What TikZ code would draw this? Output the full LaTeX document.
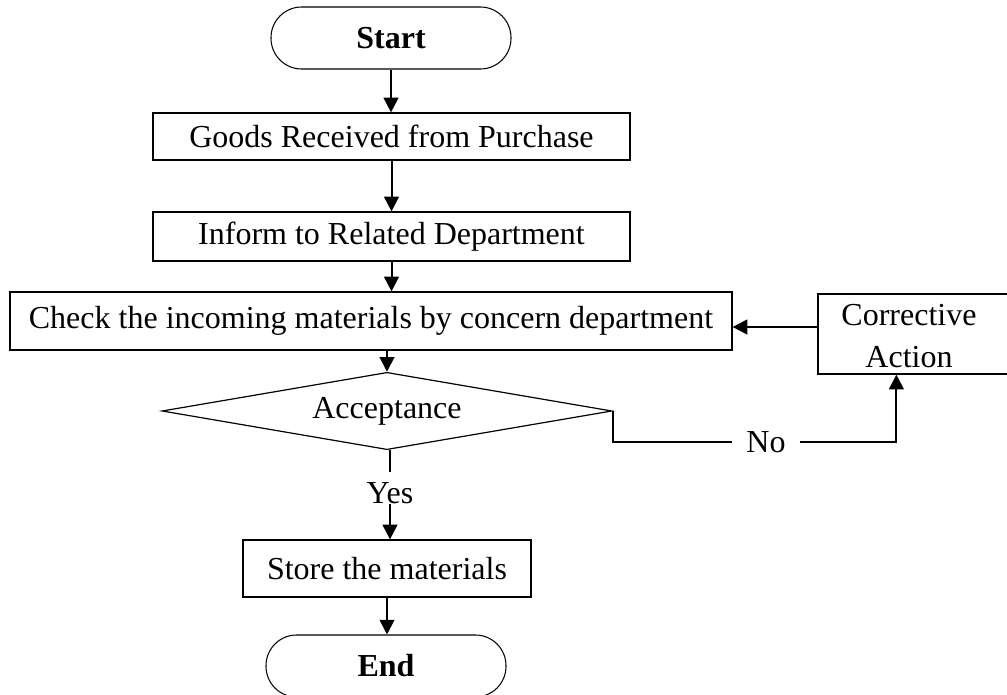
\documentclass[tikz,border=0pt]{standalone}
\usepackage{fontspec}
\setmainfont{Liberation Serif}
\usetikzlibrary{shapes.geometric,arrows.meta}
\begin{document}
\begin{tikzpicture}[x=0.75pt,y=-0.75pt,
  every node/.style={font=\fontsize{24}{31.5}\selectfont},
  box/.style={draw,line width=0.9pt,inner sep=0pt},
  term/.style={draw,line width=0.8pt,rounded corners=23pt,minimum width=180pt,minimum height=46.5pt,inner sep=0pt,font=\fontsize{24}{28}\selectfont\bfseries},
  dec/.style={draw,diamond,line width=0.9pt,aspect=5.8,minimum width=337.5pt,minimum height=58pt,inner sep=0pt},
  lbl/.style={inner sep=0pt},
  arr/.style={line width=1.5pt,-{Triangle[length=11pt,width=11pt]}},
  conn/.style={line width=1.5pt},
]
\useasboundingbox (0,0) rectangle (1007,695);

\node[term] (start) at (391,38) {Start};
\node[box,minimum width=357.75pt,minimum height=35.25pt] (goods) at (391.5,136.5) {Goods Received from Purchase};
\node[box,minimum width=357.75pt,minimum height=36.75pt] (inform) at (391.5,236.5) {Inform to Related Department};
\node[box,minimum width=541.5pt,minimum height=43.5pt] (check) at (371,321) {Check the incoming materials by concern department};
\node[box,minimum width=145.5pt,minimum height=60pt] (corr) at (915,334) {};
\node[lbl,align=center] (corrtext) at (909,336) {Corrective\\Action};
\node[dec] (acc) at (387,411) {Acceptance};
\node[inner xsep=10.9pt,inner ysep=0pt] (no) at (766,441.7) {No};
\node[lbl,anchor=base] (yes) at (390,503) {Yes};
\node[box,minimum width=216pt,minimum height=42.75pt] (store) at (387,568.5) {Store the materials};
\node[term] (end) at (386,666) {End};

\draw[arr] (start.south) -- (start.south |- goods.north);
\draw[arr] (goods.south) -- (goods.south |- inform.north);
\draw[arr] (inform.south) -- (inform.south |- check.north);
\draw[arr] (acc.north |- check.south) -- (acc.north);
\draw[arr] ([yshift=5.25pt]corr.west) -- ([yshift=5.25pt]corr.west -| check.east);
\draw[conn] (acc.east) |- (no.west);
\draw[arr] (no.east) -| ([xshift=59.25pt]corr.south west);
\draw[conn,shorten >=7pt] (yes.north |- acc.south) -- (yes.north);
\draw[arr] (yes.south) -- (yes.south |- store.north);
\draw[arr] (store.south) -- (store.south |- end.north);
\end{tikzpicture}
\end{document}
